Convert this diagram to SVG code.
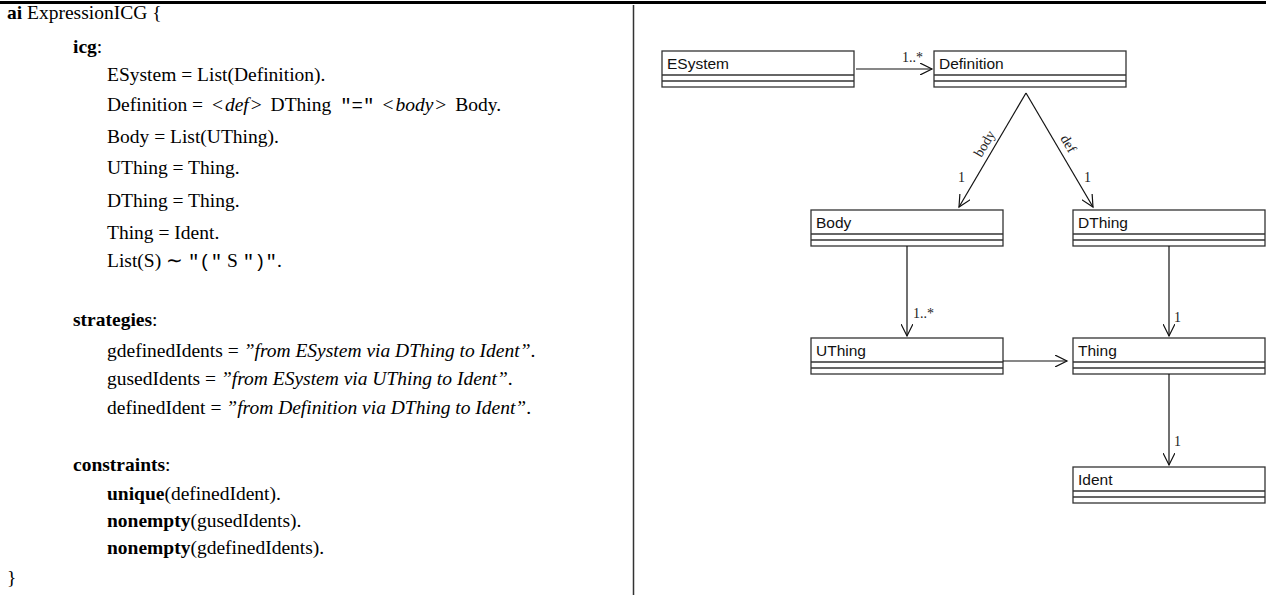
<svg xmlns="http://www.w3.org/2000/svg" width="1270" height="595" viewBox="0 0 1270 595">
  <style>
    .tx { font-family: "Liberation Serif", "Times New Roman", serif; font-size: 19.5px; fill: #000; }
    .b { font-weight: bold; }
    .i { font-style: italic; }
    .mono { font-family: "Liberation Mono", "Courier New", monospace; font-size: 19px; }
    .box { fill: #fff; stroke: #333; stroke-width: 1.3; }
    .sep { stroke: #333; stroke-width: 1.3; }
    .name { font-family: "Liberation Sans", Arial, sans-serif; font-size: 15.5px; fill: #111; }
    .mult { font-family: "Liberation Serif", "Times New Roman", serif; font-size: 14px; fill: #222; }
    .edge { stroke: #111; stroke-width: 1.2; fill: none; marker-end: url(#open); }
  </style>
  <defs>
    <marker id="open" markerWidth="14" markerHeight="12" refX="12" refY="6" orient="auto" markerUnits="userSpaceOnUse">
      <path d="M0,0 L12,6 L0,12" fill="none" stroke="#111" stroke-width="1.2"/>
    </marker>
  </defs>

  <rect width="1270" height="595" fill="#fff"/>

  <!-- frame rules -->
  <line x1="0" y1="2.5" x2="1266" y2="2.5" stroke="#000" stroke-width="3"/>
  <line x1="633.5" y1="5" x2="633.5" y2="595" stroke="#333" stroke-width="1.5"/>

  <!-- grammar listing -->
  <g id="listing">
    <text class="tx" x="7" y="19"><tspan class="b">ai</tspan> ExpressionICG {</text>
    <text class="tx" x="73" y="53"><tspan class="b">icg</tspan>:</text>
    <text class="tx" x="107" y="81">ESystem = List(Definition).</text>
    <text class="tx" x="107" y="111">Definition = <tspan dx="4">&lt;</tspan><tspan class="i" dx="2">def</tspan><tspan dx="2">&gt;</tspan><tspan dx="4"> DThing </tspan><tspan class="mono" dx="4">"="</tspan><tspan dx="8">&lt;</tspan><tspan class="i" dx="2">body</tspan><tspan dx="2">&gt;</tspan><tspan dx="4"> Body.</tspan></text>
    <text class="tx" x="107" y="143">Body = List(UThing).</text>
    <text class="tx" x="107" y="174">UThing = Thing.</text>
    <text class="tx" x="107" y="207">DThing = Thing.</text>
    <text class="tx" x="107" y="239">Thing = Ident.</text>
    <text class="tx" x="107" y="267">List(S) ∼ <tspan class="mono">"("</tspan> S <tspan class="mono">")"</tspan>.</text>

    <text class="tx" x="73" y="326"><tspan class="b">strategies</tspan>:</text>
    <text class="tx" x="107" y="357">gdefinedIdents = <tspan class="i">”from ESystem via DThing to Ident”</tspan>.</text>
    <text class="tx" x="107" y="385">gusedIdents = <tspan class="i">”from ESystem via UThing to Ident”</tspan>.</text>
    <text class="tx" x="107" y="414">definedIdent = <tspan class="i">”from Definition via DThing to Ident”</tspan>.</text>

    <text class="tx" x="73" y="471"><tspan class="b">constraints</tspan>:</text>
    <text class="tx" x="107" y="500"><tspan class="b">unique</tspan>(definedIdent).</text>
    <text class="tx" x="107" y="527"><tspan class="b">nonempty</tspan>(gusedIdents).</text>
    <text class="tx" x="107" y="554"><tspan class="b">nonempty</tspan>(gdefinedIdents).</text>
    <text class="tx" x="7" y="584">}</text>
  </g>

  <!-- class nodes -->
  <g id="ESystem">
    <rect class="box" x="662" y="51" width="192" height="36"/>
    <line class="sep" x1="662" y1="75" x2="854" y2="75"/>
    <line class="sep" x1="662" y1="81" x2="854" y2="81"/>
    <text class="name" x="667" y="69">ESystem</text>
  </g>
  <g id="Definition">
    <rect class="box" x="934" y="51" width="192" height="36"/>
    <line class="sep" x1="934" y1="75" x2="1126" y2="75"/>
    <line class="sep" x1="934" y1="81" x2="1126" y2="81"/>
    <text class="name" x="939" y="69">Definition</text>
  </g>
  <g id="Body">
    <rect class="box" x="811" y="210" width="192" height="36"/>
    <line class="sep" x1="811" y1="234" x2="1003" y2="234"/>
    <line class="sep" x1="811" y1="240" x2="1003" y2="240"/>
    <text class="name" x="816" y="228">Body</text>
  </g>
  <g id="DThing">
    <rect class="box" x="1073" y="210" width="192" height="36"/>
    <line class="sep" x1="1073" y1="234" x2="1265" y2="234"/>
    <line class="sep" x1="1073" y1="240" x2="1265" y2="240"/>
    <text class="name" x="1078" y="228">DThing</text>
  </g>
  <g id="UThing">
    <rect class="box" x="811" y="338" width="192" height="36"/>
    <line class="sep" x1="811" y1="362" x2="1003" y2="362"/>
    <line class="sep" x1="811" y1="368" x2="1003" y2="368"/>
    <text class="name" x="816" y="356">UThing</text>
  </g>
  <g id="Thing">
    <rect class="box" x="1073" y="338" width="192" height="36"/>
    <line class="sep" x1="1073" y1="362" x2="1265" y2="362"/>
    <line class="sep" x1="1073" y1="368" x2="1265" y2="368"/>
    <text class="name" x="1078" y="356">Thing</text>
  </g>
  <g id="Ident">
    <rect class="box" x="1073" y="467" width="192" height="36"/>
    <line class="sep" x1="1073" y1="491" x2="1265" y2="491"/>
    <line class="sep" x1="1073" y1="497" x2="1265" y2="497"/>
    <text class="name" x="1078" y="485">Ident</text>
  </g>

  <!-- associations -->
  <g id="connectors">
    <line class="edge" x1="856" y1="69" x2="932" y2="69"/>
    <text class="mult" x="902" y="62">1..*</text>

    <line class="edge" x1="1026" y1="93" x2="959" y2="207"/>
    <text class="mult" x="985" y="148" text-anchor="middle" transform="rotate(-59.5 985 144)">body</text>
    <text class="mult" x="958" y="182">1</text>

    <line class="edge" x1="1026" y1="93" x2="1093" y2="207"/>
    <text class="mult" x="1068" y="148" text-anchor="middle" transform="rotate(59.5 1068 144)">def</text>
    <text class="mult" x="1084" y="182">1</text>

    <line class="edge" x1="907" y1="246" x2="907" y2="336"/>
    <text class="mult" x="913" y="318">1..*</text>

    <line class="edge" x1="1169" y1="246" x2="1169" y2="336"/>
    <text class="mult" x="1174" y="322">1</text>

    <line class="edge" x1="1003" y1="361" x2="1067" y2="361"/>

    <line class="edge" x1="1169" y1="374" x2="1169" y2="465"/>
    <text class="mult" x="1174" y="446">1</text>
  </g>
</svg>
